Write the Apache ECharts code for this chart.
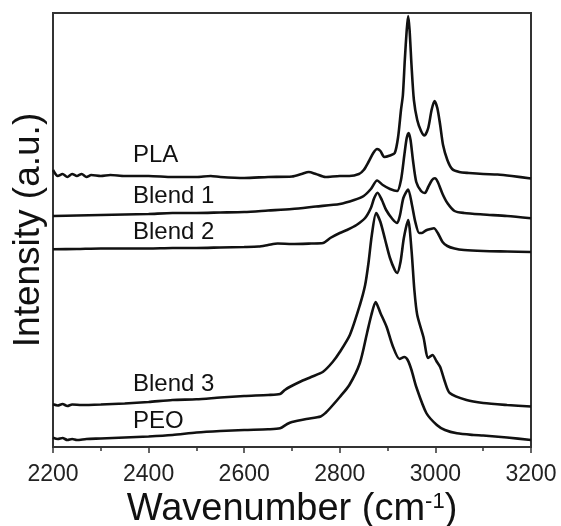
<!DOCTYPE html>
<html>
<head>
<meta charset="utf-8">
<script src="https://cdn.jsdelivr.net/npm/echarts@6/dist/echarts.min.js"></script>
<style>html,body{margin:0;padding:0;background:#fff;}#c{width:561px;height:526px;}</style>
</head>
<body>
<div id="c"></div>
<script>
// Wavenumber axis ticks (cm-1)
const xTicks = [2200, 2400, 2600, 2800, 3000, 3200];
const seriesNames = ['PLA', 'Blend 1', 'Blend 2', 'Blend 3', 'PEO'];

// [wavenumber, intensity (a.u., offset-stacked)]
const pla = [[2200,277],[2210,271],[2220,273],[2230,270],[2240,273],[2250,271],[2260,273],[2270,270],[2280,272],[2300,271],[2320,272],[2350,271],[2400,271],[2450,270],[2500,270],[2530,271],[2550,270],[2600,269],[2650,270],[2700,270.5],[2720,273],[2735,275],[2750,273],[2770,270],[2800,271],[2820,271],[2840,273],[2850,277],[2860,285],[2870,294],[2878,298],[2885,296],[2893,290],[2905,291.5],[2915,294],[2922,310],[2928,337],[2932,352],[2936,387],[2940,417],[2943,431],[2946,417],[2950,382],[2955,347],[2962,327],[2970,316],[2977,311.5],[2985,319],[2992,337],[2998,346],[3004,339],[3010,322],[3016,302],[3025,287],[3035,278],[3050,275],[3070,274],[3100,273],[3130,272.5],[3160,271],[3200,268.5]];

const blend1 = [[2200,231],[2250,231.5],[2300,232],[2350,232.5],[2400,233],[2450,234],[2500,234],[2550,234.5],[2600,235],[2650,236.5],[2700,238],[2750,240.5],[2800,243],[2830,247],[2850,251],[2865,258],[2878,266.5],[2890,262],[2905,258],[2920,256],[2928,267],[2935,292],[2940,309],[2944,314],[2948,307],[2953,287],[2960,265],[2970,256],[2978,254],[2985,260],[2993,267],[2999,268.7],[3005,265],[3015,253],[3025,244],[3040,236],[3060,234],[3100,232.5],[3150,231],[3200,228.7]];

const blend2 = [[2200,197.7],[2250,198],[2300,198.5],[2350,198.5],[2400,198.5],[2450,199],[2500,199],[2550,199.5],[2600,200],[2630,200.5],[2650,202],[2670,203.5],[2700,203],[2740,203.5],[2765,204],[2780,209],[2800,214],[2815,217],[2835,222],[2853,229],[2865,239],[2872,249],[2879,254.3],[2888,247],[2897,237],[2910,228],[2920,224],[2926,232],[2933,249],[2943,257.5],[2951,242],[2958,225],[2966,214],[2972,214],[2980,216.5],[2990,218],[2997,218.7],[3005,214],[3015,205],[3025,201],[3040,198.5],[3060,197],[3100,196],[3150,195.5],[3200,195]];

const blend3 = [[2200,42.7],[2210,41.5],[2220,43],[2230,41],[2240,42.5],[2260,42],[2300,42.5],[2350,43.5],[2400,45],[2450,47],[2500,47.7],[2550,49.5],[2600,51],[2650,52],[2675,53],[2685,57],[2697,60.5],[2717,65.3],[2740,70],[2765,75.3],[2785,85],[2800,95],[2821,112],[2842,142],[2853,162],[2860,184],[2867,212],[2876,234],[2885,225],[2895,207],[2905,189],[2915,177],[2920,174],[2927,185],[2934,209],[2943,227],[2950,197],[2956,157],[2962,132],[2975,110],[2985,89],[2994,92],[3002,86],[3010,80],[3020,65],[3030,54],[3065,47],[3100,44],[3150,42],[3200,40.5]];

const peo = [[2200,9.3],[2210,8],[2220,9],[2230,7],[2240,8],[2250,7],[2270,8],[2300,8.5],[2350,9.5],[2400,10.5],[2450,12],[2500,14.5],[2550,16],[2600,17],[2650,17.7],[2675,18.7],[2690,23],[2700,25],[2730,28],[2760,30.5],[2770,34],[2780,39],[2800,50],[2820,62],[2842,84],[2857,114],[2866,132],[2875,145],[2885,134],[2898,120],[2910,102],[2925,88],[2935,90],[2942,87],[2950,77],[2960,60],[2981,34],[3003,22],[3020,17],[3045,13.7],[3080,12],[3100,11.5],[3150,9.5],[3200,7]];

const allData = [pla, blend1, blend2, blend3, peo];
const FONT = '"Liberation Sans", Arial, Helvetica, sans-serif';

const chart = echarts.init(document.getElementById('c'), null, {renderer: 'canvas'});

const labelPos = [[133,155],[133,196],[133,232],[133,384],[133,421]];

chart.setOption({
  animation: false,
  backgroundColor: '#fff',
  grid: {left: 53, right: 30, top: 13, bottom: 79, show: true, borderColor: '#333', borderWidth: 2,
    containLabel: false, outerBoundsMode: 'none'},
  xAxis: {
    type: 'value', min: xTicks[0], max: xTicks[xTicks.length - 1], interval: 200,
    axisLine: {show: true, lineStyle: {color: '#333', width: 2}},
    axisTick: {show: true, length: 6, lineStyle: {color: '#333', width: 1.5}},
    minorTick: {show: true, splitNumber: 2, length: 4, lineStyle: {color: '#333', width: 1.5}},
    splitLine: {show: false},
    axisLabel: {color: '#222', fontSize: 23, fontFamily: FONT, margin: 16, showMaxLabel: true, showMinLabel: true,
      formatter: v => String(v)},
    name: '{a|Wavenumber (cm}{s|-1}{a|)}',
    nameLocation: 'middle', nameGap: 42,
    nameTextStyle: {
      rich: {
        a: {fontSize: 38, fontFamily: FONT, color: '#111'},
        s: {fontSize: 22, fontFamily: FONT, color: '#111', verticalAlign: 'top', padding: [0,0,16,0]}
      }
    }
  },
  yAxis: {
    type: 'value', min: 0, max: 434,
    axisLine: {show: true, lineStyle: {color: '#333', width: 2}},
    axisTick: {show: false}, axisLabel: {show: false}, splitLine: {show: false},
    name: 'Intensity (a.u.)', nameLocation: 'middle', nameGap: 6, nameRotate: 90,
    nameTextStyle: {fontSize: 37, fontFamily: FONT, color: '#111'}
  },
  graphic: seriesNames.map((n, i) => ({
    type: 'text', x: labelPos[i][0], y: labelPos[i][1],
    style: {text: n, fontSize: 24, fontFamily: FONT, fill: '#111', verticalAlign: 'middle', align: 'left'}
  })),
  series: allData.map((d, i) => ({
    name: seriesNames[i], type: 'line', data: d, showSymbol: false, smooth: 0.25,
    lineStyle: {color: '#111', width: 2.6}, clip: true
  }))
});
</script>
</body>
</html>
